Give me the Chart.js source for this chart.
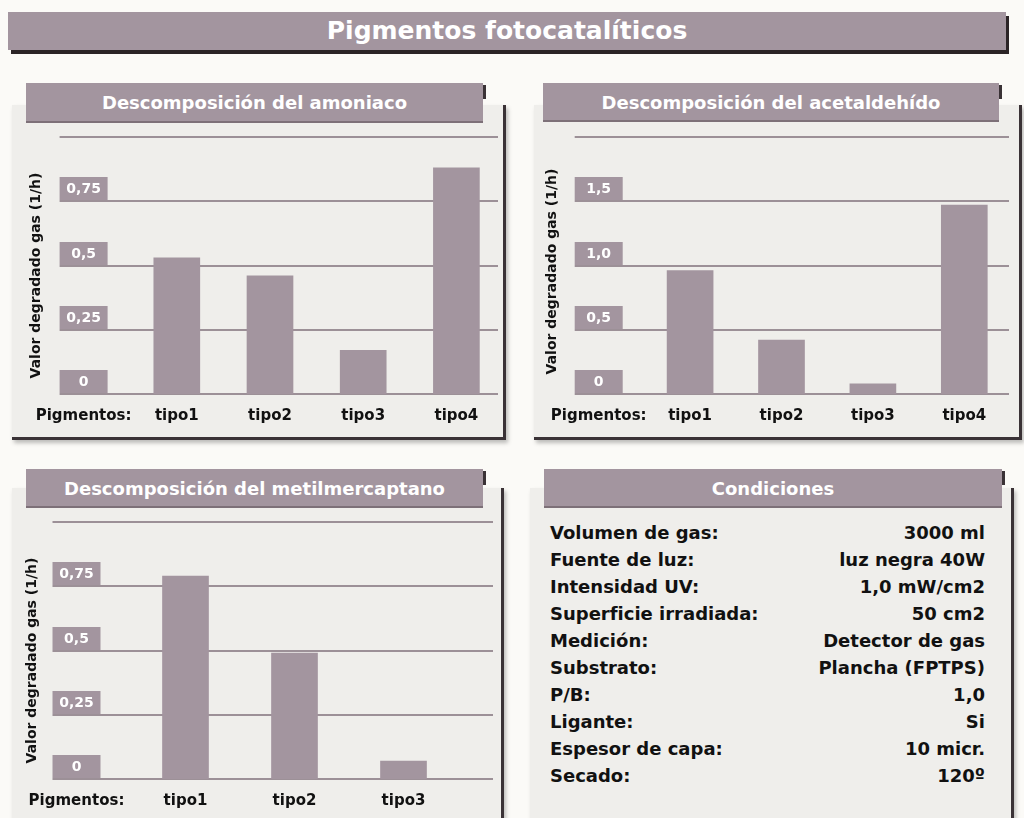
<!DOCTYPE html>
<html lang="es">
<head>
<meta charset="utf-8">
<title>Pigmentos fotocatalíticos</title>
<script src="https://cdn.jsdelivr.net/npm/chart.js@4.4.0/dist/chart.umd.min.js"></script>
<style>
    html, body { margin: 0; padding: 0; }
    body { width: 1024px; height: 818px; overflow: hidden; background: #fbfaf7; font-family: 'DejaVu Sans', sans-serif; }
    #page { position: relative; width: 1024px; height: 818px; }
    .mainbar, .tab, .box, canvas, .cond { position: absolute; }
    .mainbar {
        left: 8px; top: 12px; width: 998px; height: 38px;
        background: #a3959f; box-shadow: 3px 4px 0 #2b2426;
        color: #fff; font-weight: bold; font-size: 25px; line-height: 38px; text-align: center;
    }
    .box {
        background: #efeeeb;
        border-right: 3px solid #3a3236; border-bottom: 3px solid #3a3236;
        box-shadow: 2px 3px 4px rgba(0,0,0,0.25);
    }
    .tab {
        background: #a3959f; border-bottom: 2px solid #7d7078;
        color: #fff; font-weight: bold; font-size: 18px; text-align: center;
        box-sizing: border-box;
    }
    .tab::after {
        content: ""; position: absolute; right: -3px; top: 2px; width: 3px; height: 14px; background: #3a3236;
    }
    .cond { left: 550px; top: 519px; width: 435px; font-weight: bold; font-size: 18px; color: #111; }
    .cond div { display: flex; justify-content: space-between; height: 27px; line-height: 27px; }
</style>
</head>
<body>
<div id="page">
    <div class="mainbar">Pigmentos fotocatalíticos</div>

    <div class="box" style="left:12px;top:105px;width:491px;height:332px"></div>
    <div class="tab" style="left:26px;top:83px;width:457px;height:40px;line-height:40px">Descomposición del amoniaco</div>
    <canvas id="chartAmoniaco" width="512" height="313" style="left:0;top:125px"></canvas>

    <div class="box" style="left:534px;top:105px;width:485px;height:332px"></div>
    <div class="tab" style="left:543px;top:83px;width:456px;height:39px;line-height:39px">Descomposición del acetaldehído</div>
    <canvas id="chartAcetaldehido" width="500" height="313" style="left:516px;top:125px"></canvas>

    <div class="box" style="left:12px;top:488px;width:489px;height:400px"></div>
    <div class="tab" style="left:26px;top:469px;width:457px;height:39px;line-height:39px">Descomposición del metilmercaptano</div>
    <canvas id="chartMetil" width="512" height="313" style="left:0;top:510px"></canvas>

    <div class="box" style="left:530px;top:488px;width:481px;height:400px"></div>
    <div class="tab" style="left:544px;top:469px;width:458px;height:39px;line-height:39px">Condiciones</div>
    <div class="cond" id="conditions"></div>
</div>

<script>
// --- Data ---
const amoniacoCats = ['Pigmentos:', 'tipo1', 'tipo2', 'tipo3', 'tipo4'];
const amoniacoVals = [null, 0.53, 0.46, 0.17, 0.88];
const amoniacoTicks = ['0', '0,25', '0,5', '0,75'];

const acetaldehidoCats = ['Pigmentos:', 'tipo1', 'tipo2', 'tipo3', 'tipo4'];
const acetaldehidoVals = [null, 0.96, 0.42, 0.08, 1.47];
const acetaldehidoTicks = ['0', '0,5', '1,0', '1,5'];

const metilCats = ['Pigmentos:', 'tipo1', 'tipo2', 'tipo3'];
const metilVals = [null, 0.79, 0.49, 0.07];
const metilTicks = ['0', '0,25', '0,5', '0,75'];

const yTitle = 'Valor degradado gas (1/h)';

const condLabels = ['Volumen de gas:', 'Fuente de luz:', 'Intensidad UV:', 'Superficie irradiada:', 'Medición:',
    'Substrato:', 'P/B:', 'Ligante:', 'Espesor de capa:', 'Secado:'];
const condValues = ['3000 ml', 'luz negra 40W', '1,0 mW/cm2', '50 cm2', 'Detector de gas',
    'Plancha (FPTPS)', '1,0', 'Si', '10 micr.', '120º'];

const BAR = '#a3959f';
const RULE = '#9c9097';
const FONT = "'DejaVu Sans', sans-serif";

// --- Grid rules, tick boxes and rotated y title ---
const decorPlugin = {
    id: 'decor',
    beforeDatasetsDraw(chart, args, opts) {
        const { ctx, chartArea } = chart;
        const x = chart.scales.x, y = chart.scales.y;
        const cx = x.getPixelForValue(0);
        const boxW = 48, boxH = 24;
        const left = cx - boxW / 2;
        ctx.save();
        ctx.strokeStyle = RULE;
        ctx.lineWidth = 2;
        y.ticks.forEach(t => {
            const py = Math.round(y.getPixelForValue(t.value));
            ctx.beginPath();
            ctx.moveTo(left, py);
            ctx.lineTo(opts.gridRight, py);
            ctx.stroke();
        });
        ctx.font = 'bold 14px ' + FONT;
        ctx.textAlign = 'center';
        ctx.textBaseline = 'middle';
        y.ticks.forEach(t => {
            if (!t.label) return;
            const py = Math.round(y.getPixelForValue(t.value));
            ctx.fillStyle = BAR;
            ctx.fillRect(left, py - boxH, boxW, boxH - 1);
            ctx.fillStyle = '#fff';
            ctx.fillText(t.label, cx, py - boxH / 2);
        });
        ctx.translate(opts.titleX, (chartArea.top + chartArea.bottom) / 2 + opts.titleShift);
        ctx.rotate(-Math.PI / 2);
        ctx.fillStyle = '#111';
        ctx.font = 'bold 14px ' + FONT;
        ctx.fillText(yTitle, 0, 0);
        ctx.restore();
    }
};

function makeChart(id, cats, vals, ticks, yMax, step, pad, decor) {
    const ctx = document.getElementById(id).getContext('2d');
    return new Chart(ctx, {
        type: 'bar',
        data: {
            labels: cats,
            datasets: [{ data: vals, backgroundColor: BAR, borderWidth: 0, barThickness: 46 }]
        },
        plugins: [decorPlugin],
        options: {
            responsive: false,
            animation: false,
            events: [],
            layout: { padding: pad },
            plugins: { legend: { display: false }, tooltip: { enabled: false }, decor: decor },
            scales: {
                x: {
                    grid: { display: false, drawTicks: false },
                    border: { display: false },
                    ticks: {
                        color: '#111', padding: 13, maxRotation: 0, minRotation: 0, autoSkip: false,
                        font: { family: FONT, size: 15, weight: 'bold' }
                    }
                },
                y: {
                    min: 0, max: yMax,
                    grid: { display: false, drawTicks: false },
                    border: { display: false },
                    ticks: { display: false, stepSize: step, callback: (v, i) => ticks[i] ?? '' }
                }
            }
        }
    });
}

makeChart('chartAmoniaco', amoniacoCats, amoniacoVals, amoniacoTicks, 1, 0.25,
    { left: 37, right: 9, top: 12, bottom: 0 }, { gridRight: 498, titleX: 36, titleShift: 10 });
makeChart('chartAcetaldehido', acetaldehidoCats, acetaldehidoVals, acetaldehidoTicks, 2, 0.5,
    { left: 37, right: 6, top: 12, bottom: 0 }, { gridRight: 493, titleX: 36, titleShift: 6 });
makeChart('chartMetil', metilCats, metilVals, metilTicks, 1, 0.25,
    { left: 22, right: 54, top: 12, bottom: 0 }, { gridRight: 493, titleX: 32, titleShift: 10 });

// --- Conditions list ---
const cond = document.getElementById('conditions');
condLabels.forEach((label, i) => {
    const row = document.createElement('div');
    row.innerHTML = `<span>${label}</span><span>${condValues[i]}</span>`;
    cond.appendChild(row);
});
</script>
</body>
</html>
